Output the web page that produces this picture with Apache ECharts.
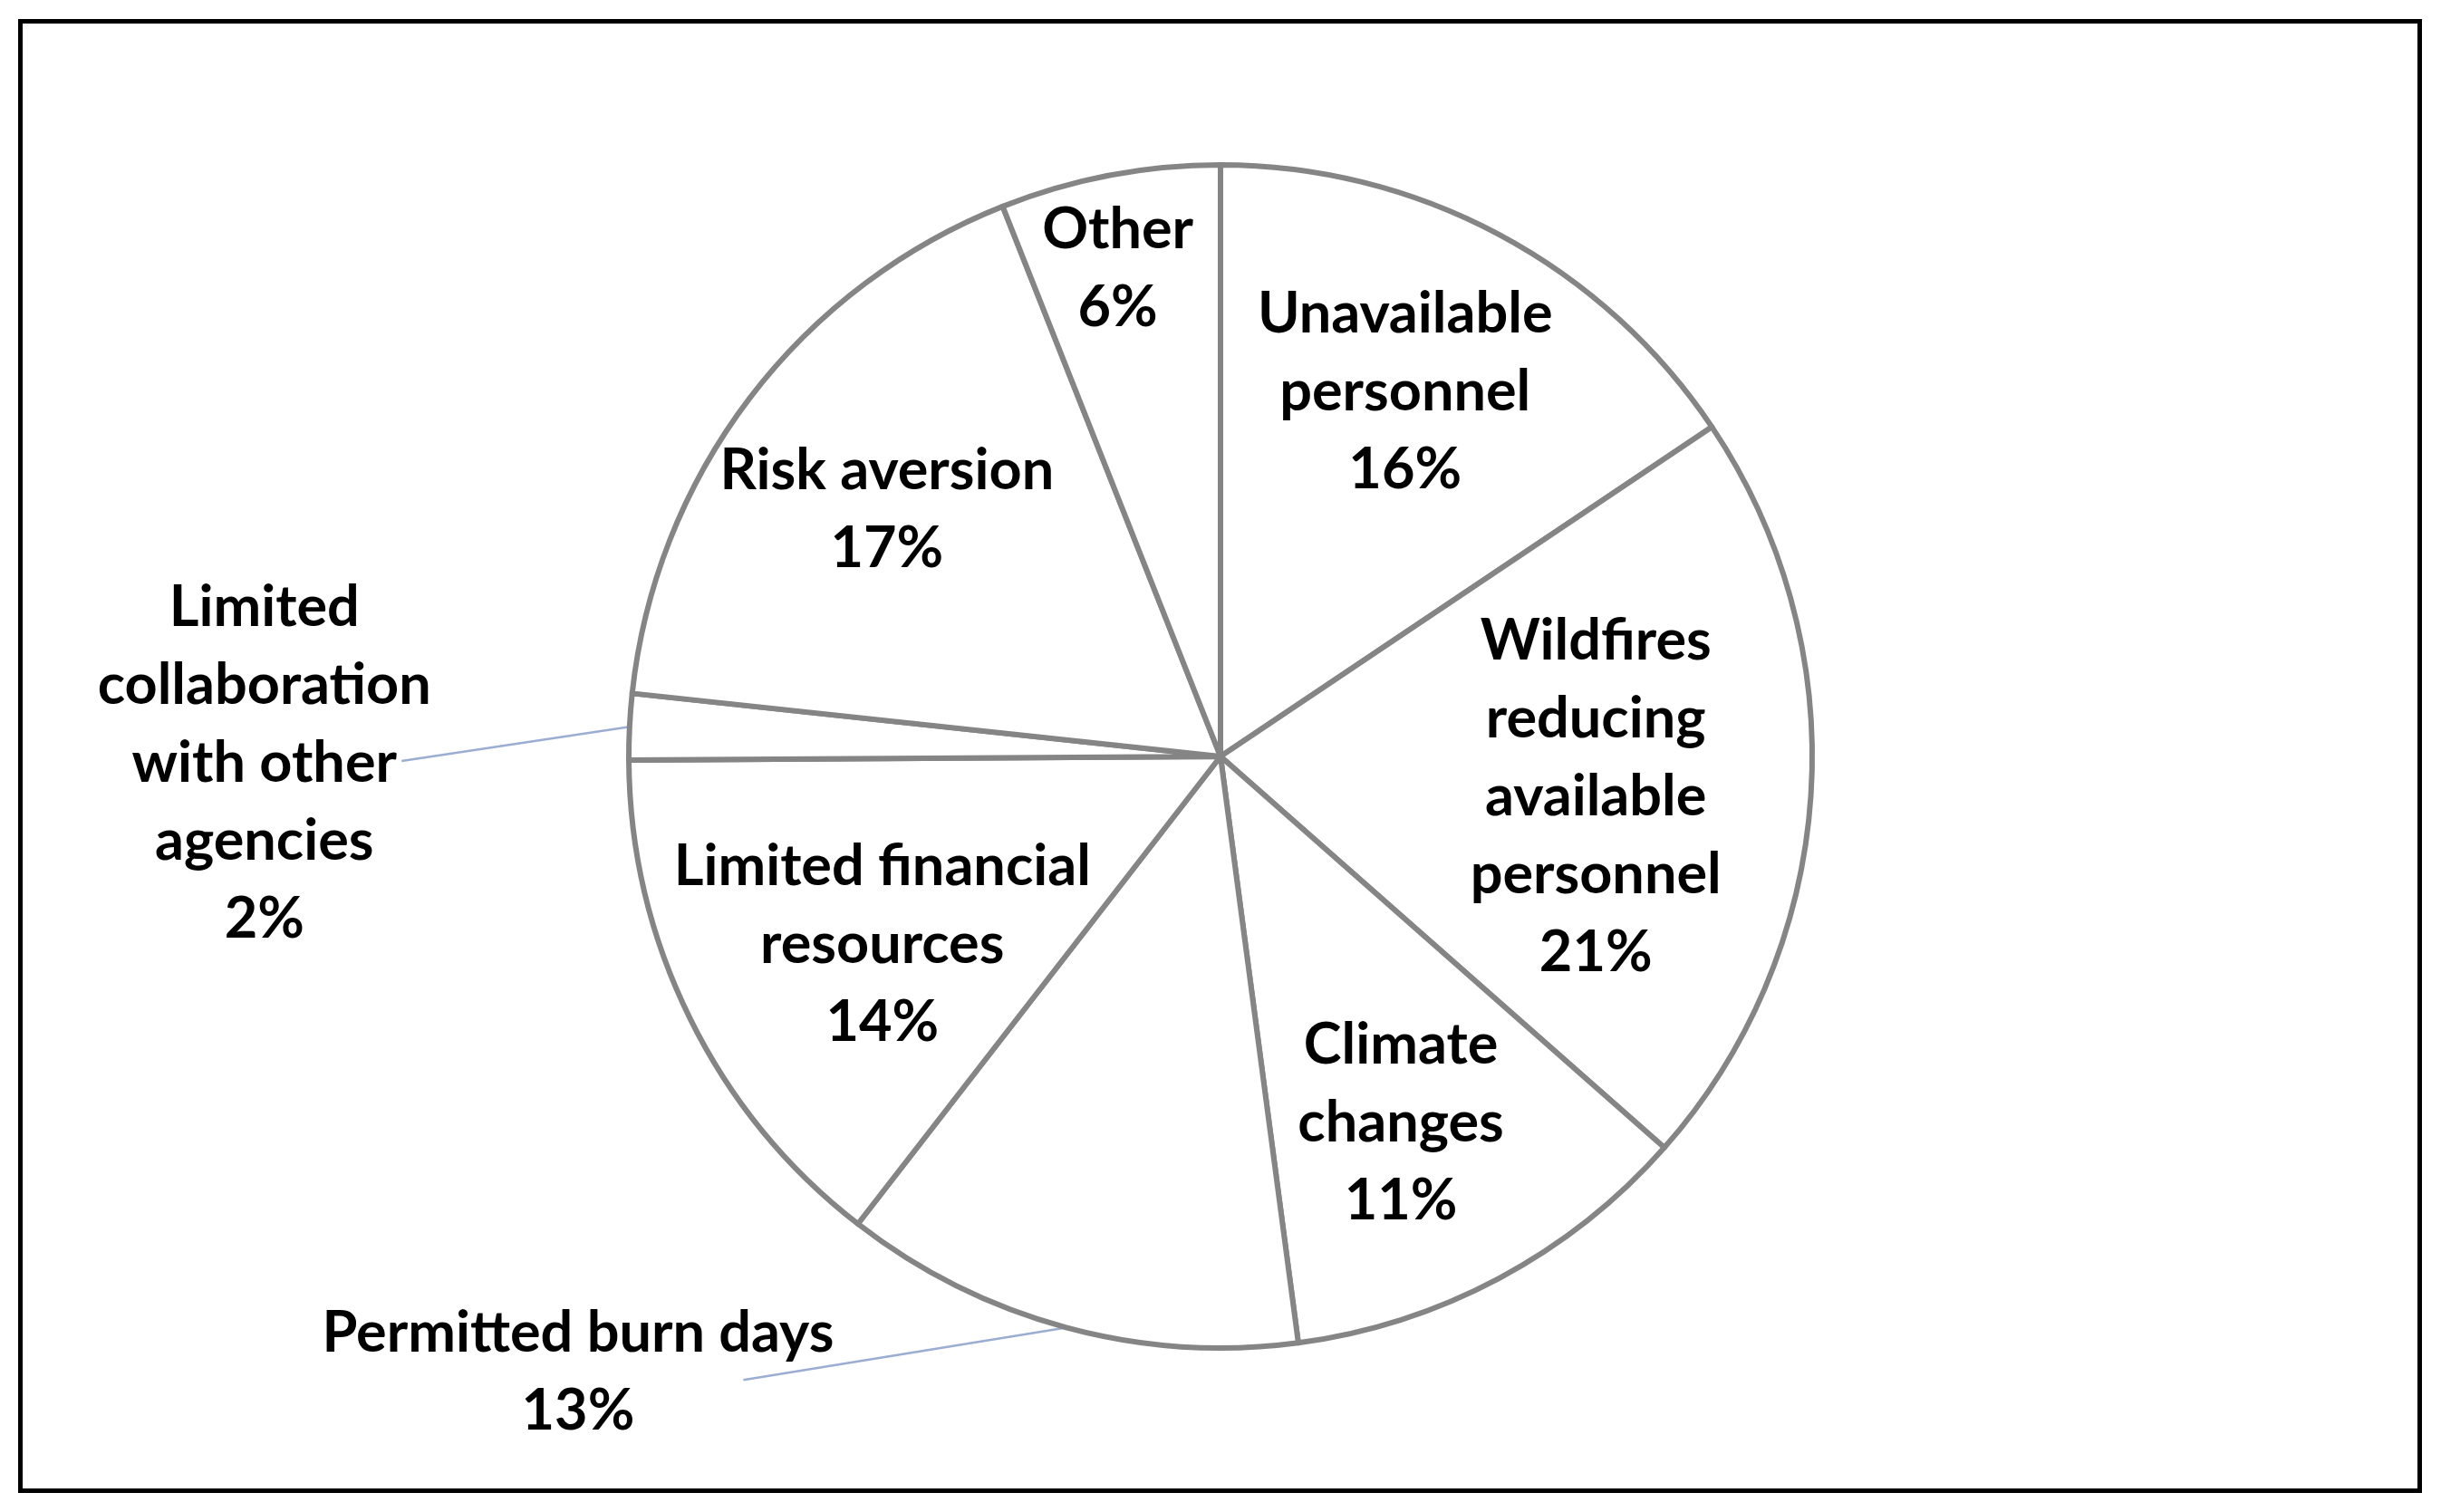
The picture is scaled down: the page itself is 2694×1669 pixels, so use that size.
<!DOCTYPE html>
<html><head><meta charset="utf-8">
<script src="https://cdn.jsdelivr.net/npm/echarts@6/dist/echarts.min.js"></script>
<style>html,body{margin:0;padding:0;background:#fff}#c{width:2694px;height:1669px}</style>
</head><body><div id="c"></div>
<script>
// ---- data (shares; labels show rounded percent) ----
const categories = [
  'Unavailable\npersonnel',
  'Wildfires\nreducing\navailable\npersonnel',
  'Climate\nchanges',
  'Permitted burn days',
  'Limited financial\nresources',
  'Limited\ncollaboration\nwith other\nagencies',
  'Risk aversion',
  'Other'
];
const values = [15.6, 20.9, 11.4, 12.6, 14.4, 1.8, 17.3, 6.0];

// ---- layout (pixels / polar offsets relative to slice mid-angle) ----
const CX = 1347, CY = 835, R = 653;
const labelPlace = [
  {r: 0.690, a: 1.2},
  {r: 0.638, a: -2.4},
  {r: 0.691, a: -1.9},
  {r: 1.504, a: -31.1, end: {r: 1.327, a: -22.3}},
  {r: 0.654, a: 2.8},
  {r: 1.616, a: 3.3, end: {r: 1.384, a: 3.2}},
  {r: 0.701, a: 0.8},
  {r: 0.842, a: 1.1}
];

const total = values.reduce((s, v) => s + v, 0);
function midAngle(i) {
  let cum = 0;
  for (let k = 0; k < i; k++) cum += values[k];
  return 90 - (cum + values[i] / 2) / total * 360;
}
function polar(i, r, a) {
  const t = (midAngle(i) + a) * Math.PI / 180;
  return [CX + r * R * Math.cos(t), CY - r * R * Math.sin(t)];
}

const chart = echarts.init(document.getElementById('c'), null, {renderer: 'canvas'});
const data = values.map((v, i) => {
  const item = {name: categories[i], value: v};
  if (labelPlace[i].end) {
    item.label = {position: 'outside'};
    item.labelLine = {show: true, smooth: false, lineStyle: {color: '#9badd3', width: 2.5}};
  }
  return item;
});

chart.setOption({
  backgroundColor: '#ffffff',
  animation: false,
  graphic: [{
    type: 'rect',
    shape: {x: 22.5, y: 23.5, width: 2648, height: 1622},
    style: {fill: 'none', stroke: '#000000', lineWidth: 5},
    silent: true
  }],
  series: [{
    type: 'pie',
    center: [CX, CY],
    radius: [0, R],
    startAngle: 90,
    clockwise: true,
    avoidLabelOverlap: false,
    emphasis: {disabled: true},
    itemStyle: {color: '#ffffff', borderColor: '#858585', borderWidth: 6},
    label: {
      show: true,
      position: 'inside',
      formatter: p => p.name + '\n' + Math.round(p.value / total * 100) + '%',
      fontFamily: 'Lato',
      fontWeight: 'bold',
      fontSize: 63,
      lineHeight: 86,
      color: '#000000',
      align: 'center'
    },
    labelLine: {show: false},
    labelLayout: function (p) {
      const i = p.dataIndex;
      const pl = labelPlace[i];
      const c = polar(i, pl.r, pl.a);
      const out = {x: c[0], y: c[1], align: 'center', verticalAlign: 'middle'};
      if (pl.end) {
        const s = polar(i, 1, 0);
        const e = polar(i, pl.end.r, pl.end.a);
        out.labelLinePoints = [s, e, e];
      }
      return out;
    },
    data: data
  }]
});
</script>
</body></html>
